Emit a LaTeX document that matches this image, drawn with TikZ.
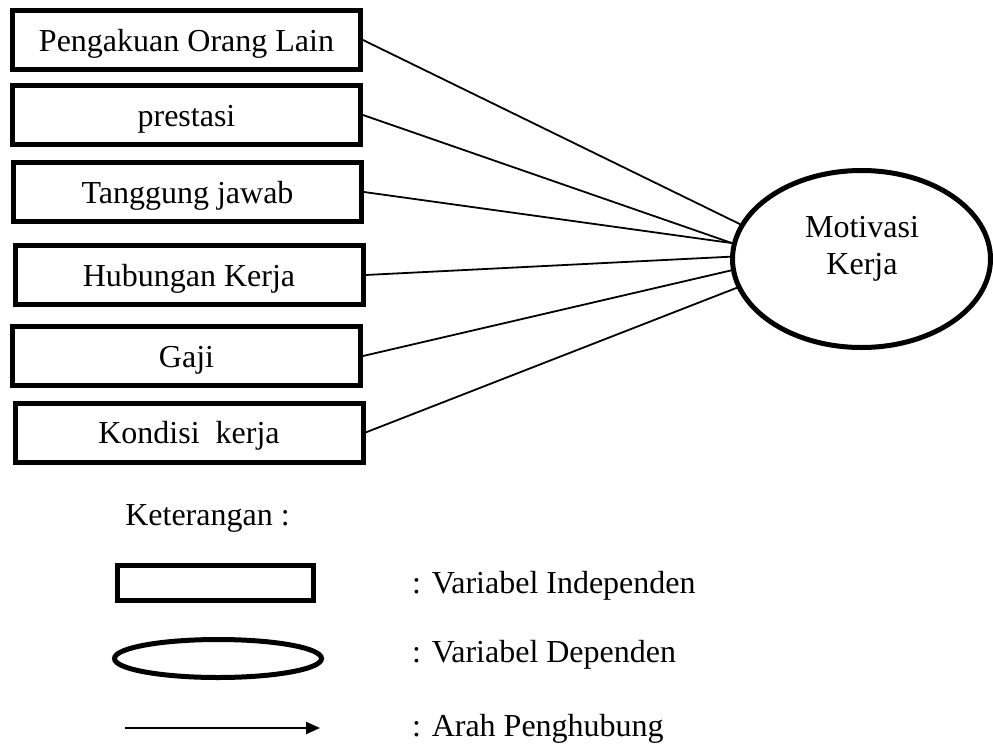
\documentclass[tikz,border=0pt]{standalone}
\usepackage{fontspec}
\setmainfont{Liberation Serif}
\usetikzlibrary{shapes.geometric,arrows.meta}

\begin{document}
\begin{tikzpicture}
  [x=1pt,y=-1pt,
   every node/.style={font=\fontsize{32}{37}\selectfont, inner sep=0pt},
   varbox/.style={rectangle, draw, line width=5pt, minimum width=348pt, minimum height=59pt,
                  text height=26pt, text depth=4pt},
   varoval/.style={ellipse, draw, line width=5pt},
   link/.style={line width=1.8pt}]

 \useasboundingbox (0,0) rectangle (993,744);

 % variabel independen
 \node[varbox] (b1) at (186.5,40)  {Pengakuan Orang Lain};
 \node[varbox] (b2) at (186.5,115) {prestasi};
 \node[varbox] (b3) at (187.5,192) {Tanggung jawab};
 \node[varbox] (b4) at (189,275)   {Hubungan Kerja};
 \node[varbox] (b5) at (186.5,356) {Gaji};
 \node[varbox] (b6) at (189,432.5) {Kondisi\ \ kerja};

 % variabel dependen
 \node[varoval, minimum width=258pt, minimum height=177pt] (mk) at (861.5,259) {};
 \node[align=center] (mkt) at (862,249) {Motivasi\\Kerja};

 \foreach \from/\ang in {b1/164, b2/173, b3/173, b4/179, b5/185, b6/193}
   \draw[link] (\from.east) -- (mk.\ang);

 % keterangan
 \node[anchor=base] (ket) at (207.5,525) {Keterangan :};
 \node[varbox, minimum width=196pt, minimum height=35pt] (kr) at (215.5,583) {};
 \node[varoval, minimum width=207pt, minimum height=38pt] (ke) at (218,658.5) {};
 \coordinate (ka) at (125,728);
 \coordinate (kb) at (320,728);
 \draw[line width=2.5pt, -{Triangle[length=14pt,width=12pt]}] (ka) -- (kb);

 \node[anchor=base west] (t1) at (412,593) {: Variabel Independen};
 \node[anchor=base west] (t2) at (412,662) {: Variabel Dependen};
 \node[anchor=base west] (t3) at (412,736.5) {: Arah Penghubung};

\end{tikzpicture}
\end{document}
